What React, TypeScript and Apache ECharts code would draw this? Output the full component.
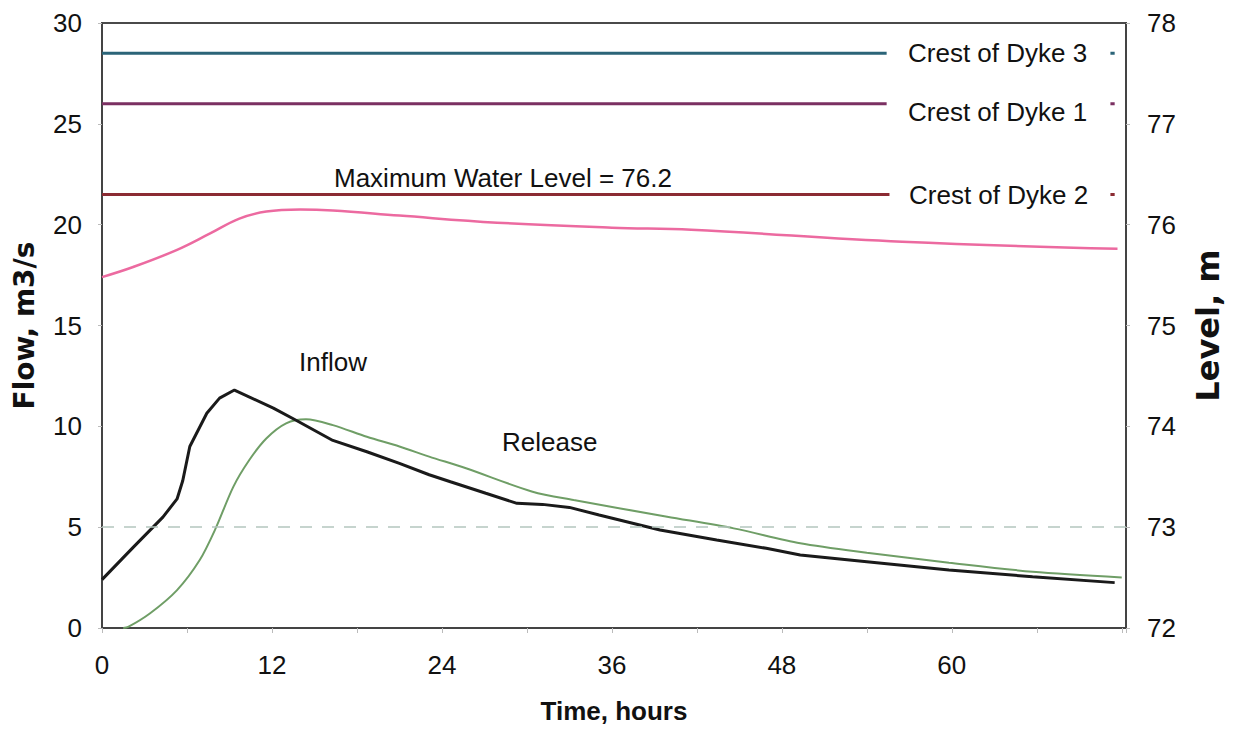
import React, { useEffect, useRef } from "react";
import * as echarts from "echarts";

// ---- data ----
const inflowHours = [0, 2.2, 4.3, 5.3, 5.7, 6.2, 7.4, 8.3, 9.35, 12.1, 13.7, 16.3, 18.7, 21.0, 23.1, 24.6, 27.1, 29.3, 31.1, 33.0, 35.1, 39.4, 43.4, 46.9, 49.3, 54.0, 59.8, 65.7, 71.5];
const inflowFlow = [2.4, 4.0, 5.5, 6.4, 7.3, 9.0, 10.65, 11.4, 11.8, 10.9, 10.3, 9.3, 8.74, 8.16, 7.6, 7.25, 6.68, 6.18, 6.13, 5.98, 5.6, 4.86, 4.36, 3.95, 3.62, 3.29, 2.88, 2.54, 2.25];

const releaseHours = [1.5, 1.85, 3.4, 5.3, 6.9, 8.0, 9.27, 10.4, 11.6, 13.0, 14.4, 16.3, 18.7, 21.0, 23.1, 25.7, 30.4, 33.3, 39.9, 44.6, 49.3, 54.0, 59.8, 65.7, 72.0];
const releaseFlow = [0, 0.05, 0.73, 1.88, 3.37, 4.9, 7.0, 8.33, 9.4, 10.15, 10.35, 10.06, 9.48, 9.0, 8.5, 7.92, 6.76, 6.35, 5.52, 4.94, 4.2, 3.73, 3.24, 2.79, 2.51];

const levelHours = [0, 2.2, 5.3, 7.6, 9.7, 11.6, 14.0, 16.3, 21.0, 27.9, 36.0, 41.6, 56.5, 71.7];
const levelValues = [75.48, 75.58, 75.75, 75.91, 76.06, 76.13, 76.15, 76.14, 76.09, 76.02, 75.97, 75.95, 75.83, 75.76];

const crestNames = ["Crest of Dyke 3", "Crest of Dyke 1", "Crest of Dyke 2"];
const crestLevels = [77.7, 77.2, 76.3];
const crestEnds = [55.4, 55.4, 55.6];
const crestMarkHours = [71.2, 71.5];

const xTickLabels = [0, 12, 24, 36, 48, 60];
const maxLevelText = "Maximum Water Level = 76.2";

const FONT = "'Liberation Sans', Arial, Helvetica, sans-serif";
const crestColors = ["#2b6478", "#7b3062", "#8b2b33"];

const zip = (xs: number[], ys: number[]) => xs.map((x, i) => [x, ys[i]]);

export default function App() {
  const ref = useRef<HTMLDivElement>(null);
  useEffect(() => {
    if (!ref.current) return;
    const chart = echarts.init(ref.current, null, { renderer: "svg" });

    const crestSeries = crestLevels.map((lvl, i) => ({
      type: "line",
      name: crestNames[i],
      yAxisIndex: 1,
      symbol: "none",
      connectNulls: false,
      lineStyle: { color: crestColors[i], width: 3 },
      data: [
        [0, lvl],
        [crestEnds[i], lvl],
        [63, "-"],
        [crestMarkHours[0], lvl],
        [crestMarkHours[1], lvl],
      ],
      z: 3,
    }));

    const textStyle = { fontFamily: FONT, fontSize: 26, color: "#111" };
    const annot = (text: string, x: number, y: number) => ({
      type: "text",
      x,
      y,
      style: { text, font: `26px ${FONT}`, fill: "#111", textVerticalAlign: "middle", verticalAlign: "middle" },
    });

    const option: any = {
      animation: false,
      backgroundColor: "#fff",
      grid: {
        left: 102, right: 112, top: 23, bottom: 103,
        outerBoundsMode: "none",
        containLabel: false,
        show: true, borderColor: "#4a4a4a", borderWidth: 2, backgroundColor: "transparent",
      },
      xAxis: {
        type: "value",
        min: 0,
        max: 72.3,
        interval: 6,
        name: "Time, hours",
        nameLocation: "middle",
        nameGap: 70,
        nameTextStyle: { fontFamily: FONT, fontSize: 26, fontWeight: "bold", color: "#111" },
        axisLine: { show: true, lineStyle: { color: "#444", width: 2 } },
        axisTick: { show: true, length: 5, lineStyle: { color: "#bbb" } },
        axisLabel: {
          ...textStyle,
          margin: 24,
          formatter: (v: number) => (xTickLabels.includes(v) ? String(v) : ""),
        },
        splitLine: { show: false },
      },
      yAxis: [
        {
          type: "value",
          min: 0,
          max: 30,
          interval: 5,
          name: "Flow, m3/s",
          nameLocation: "middle",
          nameRotate: 90,
          nameGap: 64,
          nameTextStyle: { fontFamily: "'DejaVu Sans', sans-serif", fontSize: 28, fontWeight: "bold", color: "#111" },
          axisLine: { show: true, lineStyle: { color: "#444", width: 2 } },
          axisTick: { show: true, length: 4, lineStyle: { color: "#bbb" } },
          axisLabel: { ...textStyle, margin: 20 },
          splitLine: { show: false },
        },
        {
          type: "value",
          min: 72,
          max: 78,
          interval: 1,
          position: "right",
          name: "Level, m",
          nameLocation: "middle",
          nameRotate: 90,
          nameGap: 66,
          nameTextStyle: { fontFamily: "'DejaVu Sans', sans-serif", fontSize: 32, fontWeight: "bold", color: "#111", padding: [0, 0, 26, 0] },
          axisLine: { show: true, lineStyle: { color: "#444", width: 2 } },
          axisTick: { show: true, length: 4, lineStyle: { color: "#bbb" } },
          axisLabel: { ...textStyle, margin: 21 },
          splitLine: { show: false },
        },
      ],
      series: [
        ...crestSeries,
        {
          type: "line",
          name: "Level",
          yAxisIndex: 1,
          symbol: "none",
          smooth: 0.4,
          lineStyle: { color: "#ec6aa0", width: 2.5 },
          data: zip(levelHours, levelValues),
          z: 3,
        },
        {
          type: "line",
          name: "Release",
          symbol: "none",
          smooth: 0.3,
          lineStyle: { color: "#6f9e66", width: 2 },
          data: zip(releaseHours, releaseFlow),
          z: 3,
          markLine: {
            silent: true,
            symbol: "none",
            label: { show: false },
            lineStyle: { color: "#b4c6bf", type: [12, 10], width: 1.5 },
            data: [{ yAxis: 5 }],
          },
        },
        {
          type: "line",
          name: "Inflow",
          symbol: "none",
          lineStyle: { color: "#1a1a1a", width: 3 },
          data: zip(inflowHours, inflowFlow),
          z: 4,
        },
      ],
      graphic: [
        annot(crestNames[0], 908, 53),
        annot(crestNames[1], 908, 112),
        annot(crestNames[2], 909, 195),
        annot(maxLevelText, 334, 178),
        annot("Inflow", 299, 362),
        annot("Release", 502, 442),
      ],
    };
    chart.setOption(option);
    return () => chart.dispose();
  }, []);
  return <div ref={ref} style={{ position: "fixed", left: 0, top: 0, width: 1238, height: 731, background: "#fff" }} />;
}
